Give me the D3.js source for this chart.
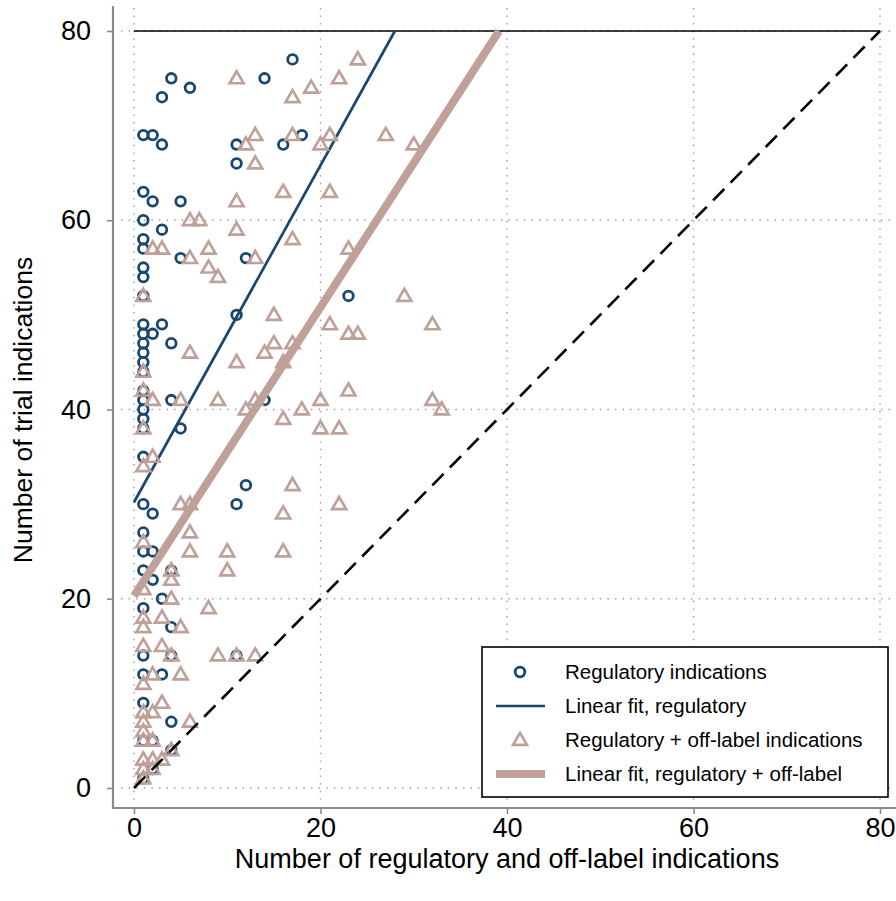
<!DOCTYPE html>
<html>
<head>
<meta charset="utf-8">
<script src="https://cdn.jsdelivr.net/npm/d3@7"></script>
<style>
  body { margin: 0; background: #fff; }
  svg { display: block; font-family: "Liberation Sans", Arial, Helvetica, sans-serif; }
</style>
</head>
<body>
<script>
// Regulatory indications per drug: [regulatory + off-label count, trial indications]
const regulatoryPoints = [
  [3,73],[4,75],[6,74],[14,75],[17,77],
  [1,69],[2,69],[3,68],[11,68],[11,66],[16,68],[18,69],
  [1,63],[2,62],[5,62],
  [1,60],[3,59],[1,58],[1,57],[5,56],[12,56],[1,55],[1,54],[1,52],
  [23,52],[11,50],
  [1,49],[3,49],[1,48],[2,48],[1,47],[4,47],[1,46],[1,45],[1,44],[1,42],
  [1,41],[4,41],[14,41],[1,40],[1,39],[1,38],[5,38],
  [1,35],[12,32],[1,30],[11,30],[2,29],[1,27],[1,25],[2,25],[1,23],[4,23],
  [2,22],[3,20],[1,19],[4,17],[1,14],[4,14],[11,14],[1,12],[3,12],
  [1,9],[4,7],[1,5],[2,5],[4,4],[2,2],[1,1]
];

// Regulatory + off-label indications per drug
const offLabelPoints = [
  [11,75],[24,77],[22,75],[19,74],[17,73],
  [13,69],[12,68],[17,69],[21,69],[20,68],[27,69],[30,68],[13,66],
  [16,63],[21,63],[11,62],[6,60],[7,60],[11,59],[17,58],
  [2,57],[3,57],[8,57],[23,57],[6,56],[13,56],[8,55],[9,54],
  [1,52],[29,52],[15,50],[21,49],[32,49],[23,48],[24,48],[15,47],[17,47],
  [6,46],[14,46],[11,45],[16,45],[1,44],[23,42],[1,42],
  [2,41],[5,41],[9,41],[13,41],[20,41],[32,41],[12,40],[18,40],[33,40],
  [16,39],[20,38],[22,38],[1,38],
  [2,35],[1,34],[17,32],[5,30],[6,30],[22,30],[16,29],[6,27],[1,26],
  [6,25],[10,25],[16,25],
  [4,23],[10,23],[4,22],[1,21],[4,20],[8,19],[1,18],[3,18],[1,17],[5,17],
  [1,15],[3,15],[4,14],[9,14],[11,14],[13,14],
  [2,12],[5,12],[1,11],[3,9],[1,8],[2,8],[1,7],[6,7],[1,6],[1,5],[2,5],
  [4,4],[1,3],[2,3],[3,3],[1,2],[2,2],[1,1]
];

// Fitted linear trends (trial indications on indication count)
const regulatoryFit = { intercept: 30.2, slope: 1.78 };
const offLabelFit = { intercept: 20.3, slope: 1.525 };

const xTicks = [0, 20, 40, 60, 80];
const yTicks = [0, 20, 40, 60, 80];
const capValue = 80;

const legendLabels = [
  "Regulatory indications",
  "Linear fit, regulatory",
  "Regulatory + off-label indications",
  "Linear fit, regulatory + off-label"
];

const navy = "#1a476f";
const rose = "#bfa19a";
const axisGray = "#8a8a8a";

const W = 896, H = 901;
const plot = { left: 121, right: 896, top: 8, bottom: 803 };

const x = d3.scaleLinear().domain([0, 80]).range([134, 880]);
const y = d3.scaleLinear().domain([0, 80]).range([788, 31]);

const svg = d3.select("body").append("svg")
  .attr("width", W).attr("height", H);

// dotted grid
const grid = svg.append("g").attr("stroke", "#9a9a9a").attr("stroke-width", 1.4)
  .attr("stroke-dasharray", "1.4,6.2");
grid.selectAll("line.h").data(yTicks).join("line").attr("class", "h")
  .attr("x1", plot.left).attr("x2", plot.right)
  .attr("y1", d => y(d)).attr("y2", d => y(d));
grid.selectAll("line.v").data(xTicks).join("line").attr("class", "v")
  .attr("y1", plot.top).attr("y2", plot.bottom)
  .attr("x1", d => x(d)).attr("x2", d => x(d));

// axes
const yAxis = d3.axisLeft(y).tickValues(yTicks).tickSize(6).tickPadding(16);
const gy = svg.append("g").attr("transform", "translate(113,0)").call(yAxis);
const xAxis = d3.axisBottom(x).tickValues(xTicks).tickSize(6).tickPadding(4);
const gx = svg.append("g").attr("transform", "translate(0,808)").call(xAxis);
[gx, gy].forEach(g => {
  g.select(".domain").remove();
  g.selectAll(".tick line").attr("stroke", axisGray).attr("stroke-width", 1.6);
  g.selectAll(".tick text").attr("fill", "#000").attr("font-size", 27)
    .attr("font-family", "Liberation Sans, Arial, sans-serif");
});
svg.append("line").attr("x1", 113).attr("x2", 113).attr("y1", 6).attr("y2", 809)
  .attr("stroke", axisGray).attr("stroke-width", 2.2);
svg.append("line").attr("x1", 112).attr("x2", W).attr("y1", 808).attr("y2", 808)
  .attr("stroke", axisGray).attr("stroke-width", 2.2);

// axis titles
svg.append("text").attr("x", 507).attr("y", 868).attr("text-anchor", "middle")
  .attr("font-size", 27).text("Number of regulatory and off-label indications");
svg.append("text").attr("transform", "translate(32,410) rotate(-90)")
  .attr("text-anchor", "middle").attr("font-size", 26.5)
  .text("Number of trial indications");

// upper bound line at 80 trial indications
svg.append("line")
  .attr("x1", x(0)).attr("x2", x(capValue))
  .attr("y1", y(capValue)).attr("y2", y(capValue))
  .attr("stroke", "#000").attr("stroke-width", 1.5);

const triangle = d3.symbol().type(d3.symbolTriangle).size(84);

// regulatory markers
svg.append("g").selectAll("circle").data(regulatoryPoints).join("circle")
  .attr("cx", d => x(d[0])).attr("cy", d => y(d[1])).attr("r", 4.8)
  .attr("fill", "none").attr("stroke", navy).attr("stroke-width", 2.8);

function fitLine(fit) {
  const xEnd = (capValue - fit.intercept) / fit.slope;
  return [[0, fit.intercept], [xEnd, capValue]];
}
const line = d3.line().x(d => x(d[0])).y(d => y(d[1]));

svg.append("path").datum(fitLine(regulatoryFit)).attr("d", line)
  .attr("fill", "none").attr("stroke", navy).attr("stroke-width", 2.7);

// regulatory + off-label markers
svg.append("g").selectAll("path").data(offLabelPoints).join("path")
  .attr("d", triangle)
  .attr("transform", d => `translate(${x(d[0])},${y(d[1]) + 0.9})`)
  .attr("fill", "none").attr("stroke", rose).attr("stroke-width", 2.7)
  .attr("stroke-linejoin", "miter");

svg.append("path").datum(fitLine(offLabelFit)).attr("d", line)
  .attr("fill", "none").attr("stroke", rose).attr("stroke-width", 8);

// line of equality
svg.append("path").datum([[0, 0], [80, 80]]).attr("d", line)
  .attr("fill", "none").attr("stroke", "#000").attr("stroke-width", 2.6)
  .attr("stroke-dasharray", "16,9");

// legend
const lg = svg.append("g").attr("transform", "translate(482,647)");
lg.append("rect").attr("width", 406).attr("height", 150)
  .attr("fill", "#fff").attr("stroke", "#000").attr("stroke-width", 1.6);
const rows = [25, 59, 93, 127];
lg.append("circle").attr("cx", 38).attr("cy", rows[0]).attr("r", 4.8)
  .attr("fill", "none").attr("stroke", navy).attr("stroke-width", 2.8);
lg.append("line").attr("x1", 14).attr("x2", 63).attr("y1", rows[1]).attr("y2", rows[1])
  .attr("stroke", navy).attr("stroke-width", 2.7);
lg.append("path").attr("d", triangle).attr("transform", `translate(38,${rows[2] + 0.9})`)
  .attr("fill", "none").attr("stroke", rose).attr("stroke-width", 2.7);
lg.append("line").attr("x1", 14).attr("x2", 63).attr("y1", rows[3]).attr("y2", rows[3])
  .attr("stroke", rose).attr("stroke-width", 8);
lg.selectAll("text").data(legendLabels).join("text")
  .attr("x", 83).attr("y", (d, i) => rows[i]).attr("dy", "0.35em")
  .attr("font-size", 20.5).attr("fill", "#000").text(d => d);
</script>
</body>
</html>
